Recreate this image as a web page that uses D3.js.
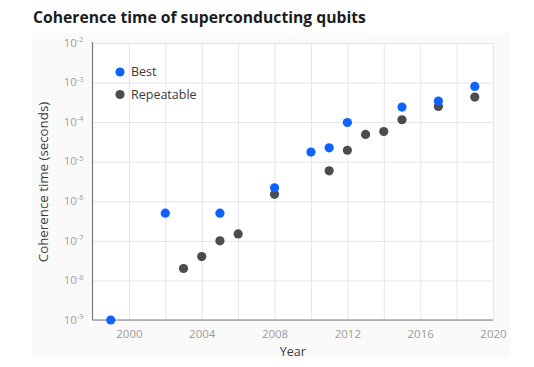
<!DOCTYPE html>
<html>
<head>
<meta charset="utf-8">
<script src="https://cdn.jsdelivr.net/npm/d3@7"></script>
<style>
  html, body { margin: 0; padding: 0; background: #ffffff; }
  svg { display: block; }
</style>
</head>
<body>
<svg id="chart" width="534" height="367"></svg>
<script>
// ---- data ----
const bestYears = [1999, 2002, 2005, 2008, 2010, 2011, 2012, 2015, 2017, 2019];
const bestValues = [1e-9, 5e-7, 5e-7, 2.2e-6, 1.75e-5, 2.25e-5, 9.8e-5, 2.4e-4, 3.4e-4, 8e-4];
const repYears = [2003, 2004, 2005, 2006, 2008, 2011, 2012, 2013, 2014, 2015, 2017, 2019];
const repValues = [2e-8, 4e-8, 1e-7, 1.5e-7, 1.5e-6, 5.9e-6, 1.95e-5, 4.9e-5, 5.8e-5, 1.15e-4, 2.5e-4, 4.3e-4];
const seriesNames = ["Best", "Repeatable"];
const seriesColors = ["#0f62fe", "#4a4c4f"];
const xTickLabels = [2000, 2004, 2008, 2012, 2016, 2020];
const xGridValues = [2000, 2002, 2004, 2006, 2008, 2010, 2012, 2014, 2016, 2018, 2020];
const yExponents = [-2, -3, -4, -5, -6, -7, -8, -9];
const titleText = "Coherence time of superconducting qubits";
const xTitle = "Year";
const yTitle = "Coherence time (seconds)";

(function () {
// ---- layout ----
const svg = d3.select("#chart");
const font = "'Open Sans', 'Noto Sans', sans-serif";
const pLeft = 92.5, pRight = 493, pTop = 43, pBottom = 320;

// panel background
svg.append("rect").attr("x", 32).attr("y", 33).attr("width", 478).attr("height", 325).attr("fill", "#fafafa");
svg.append("rect").attr("x", pLeft).attr("y", pTop).attr("width", pRight - pLeft).attr("height", pBottom - pTop).attr("fill", "#ffffff");

const x = d3.scaleLinear().domain([1998, 2020]).range([pLeft, pRight]);
const y = d3.scaleLog().domain([1e-9, 1e-2]).range([pBottom, pTop]);

// grid
const gx = svg.append("g").attr("transform", `translate(0,${pBottom})`)
  .call(d3.axisBottom(x).tickValues(xGridValues).tickSize(-(pBottom - pTop)).tickFormat(""));
gx.select(".domain").remove();
gx.selectAll("line").attr("stroke", "#e4e4ec").attr("stroke-width", 1);

const gy = svg.append("g").attr("transform", `translate(${pLeft},0)`)
  .call(d3.axisLeft(y).tickValues(yExponents.map(e => Math.pow(10, e))).tickSize(-(pRight - pLeft)).tickFormat(""));
gy.select(".domain").remove();
gy.selectAll("line").attr("stroke", "#e4e4ec").attr("stroke-width", 1);

// axis lines
svg.append("line").attr("x1", pLeft).attr("x2", pLeft).attr("y1", pTop - 1).attr("y2", pBottom).attr("stroke", "#7a7a7a").attr("stroke-width", 1.2);
svg.append("line").attr("x1", pLeft).attr("x2", pRight).attr("y1", pBottom).attr("y2", pBottom).attr("stroke", "#7a7a7a").attr("stroke-width", 1.2);

// x tick labels
const ax = svg.append("g").attr("transform", `translate(0,${pBottom})`)
  .call(d3.axisBottom(x).tickValues(xTickLabels).tickSize(0).tickPadding(10).tickFormat(d3.format("d")));
ax.select(".domain").remove();
ax.selectAll("text").attr("font-family", font).attr("font-size", 11.5).attr("fill", "#9a9a9a");

// y tick labels with superscripts
const ay = svg.append("g").attr("transform", `translate(${pLeft},0)`)
  .call(d3.axisLeft(y).tickValues(yExponents.map(e => Math.pow(10, e))).tickSize(0).tickPadding(9).tickFormat(""));
ay.select(".domain").remove();
ay.selectAll(".tick text").each(function(d) {
  const t = d3.select(this).text("")
    .attr("font-family", font).attr("fill", "#a0a0a0").attr("dy", "0.32em");
  t.append("tspan").attr("font-size", 11.5).text("10");
  t.append("tspan").attr("font-size", 7.5).attr("dy", "-0.6em").text(String(Math.round(Math.log10(d))));
});

// points
const series = [
  { name: seriesNames[0], color: seriesColors[0], years: bestYears, values: bestValues },
  { name: seriesNames[1], color: seriesColors[1], years: repYears, values: repValues }
];
[series[1], series[0]].forEach(s => {
  svg.append("g").selectAll("circle")
    .data(s.years.map((yr, i) => ({ yr, v: s.values[i] })))
    .join("circle")
    .attr("cx", d => x(d.yr))
    .attr("cy", d => y(d.v))
    .attr("r", 4.6)
    .attr("fill", s.color);
});

// legend
const legend = svg.append("g");
series.forEach((s, i) => {
  const ly = 72 + i * 22.5;
  legend.append("circle").attr("cx", 120).attr("cy", ly).attr("r", 4.6).attr("fill", s.color);
  legend.append("text").attr("x", 131).attr("y", ly).attr("dy", "0.35em")
    .attr("font-family", font).attr("font-size", 12.5).attr("fill", "#3a3a3a").text(s.name);
});

// titles
svg.append("text").attr("x", 33).attr("y", 23)
  .attr("font-family", font).attr("font-weight", 700).attr("font-size", 15.7).attr("fill", "#1c1c1c")
  .text(titleText);
svg.append("text").attr("x", (pLeft + pRight) / 2).attr("y", 356).attr("text-anchor", "middle")
  .attr("font-family", font).attr("font-size", 12.5).attr("fill", "#3a3a3a").text(xTitle);
svg.append("text").attr("transform", `translate(48,182) rotate(-90)`).attr("text-anchor", "middle")
  .attr("font-family", font).attr("font-size", 13.3).attr("fill", "#3a3a3a").text(yTitle);
})();
</script>
</body>
</html>
